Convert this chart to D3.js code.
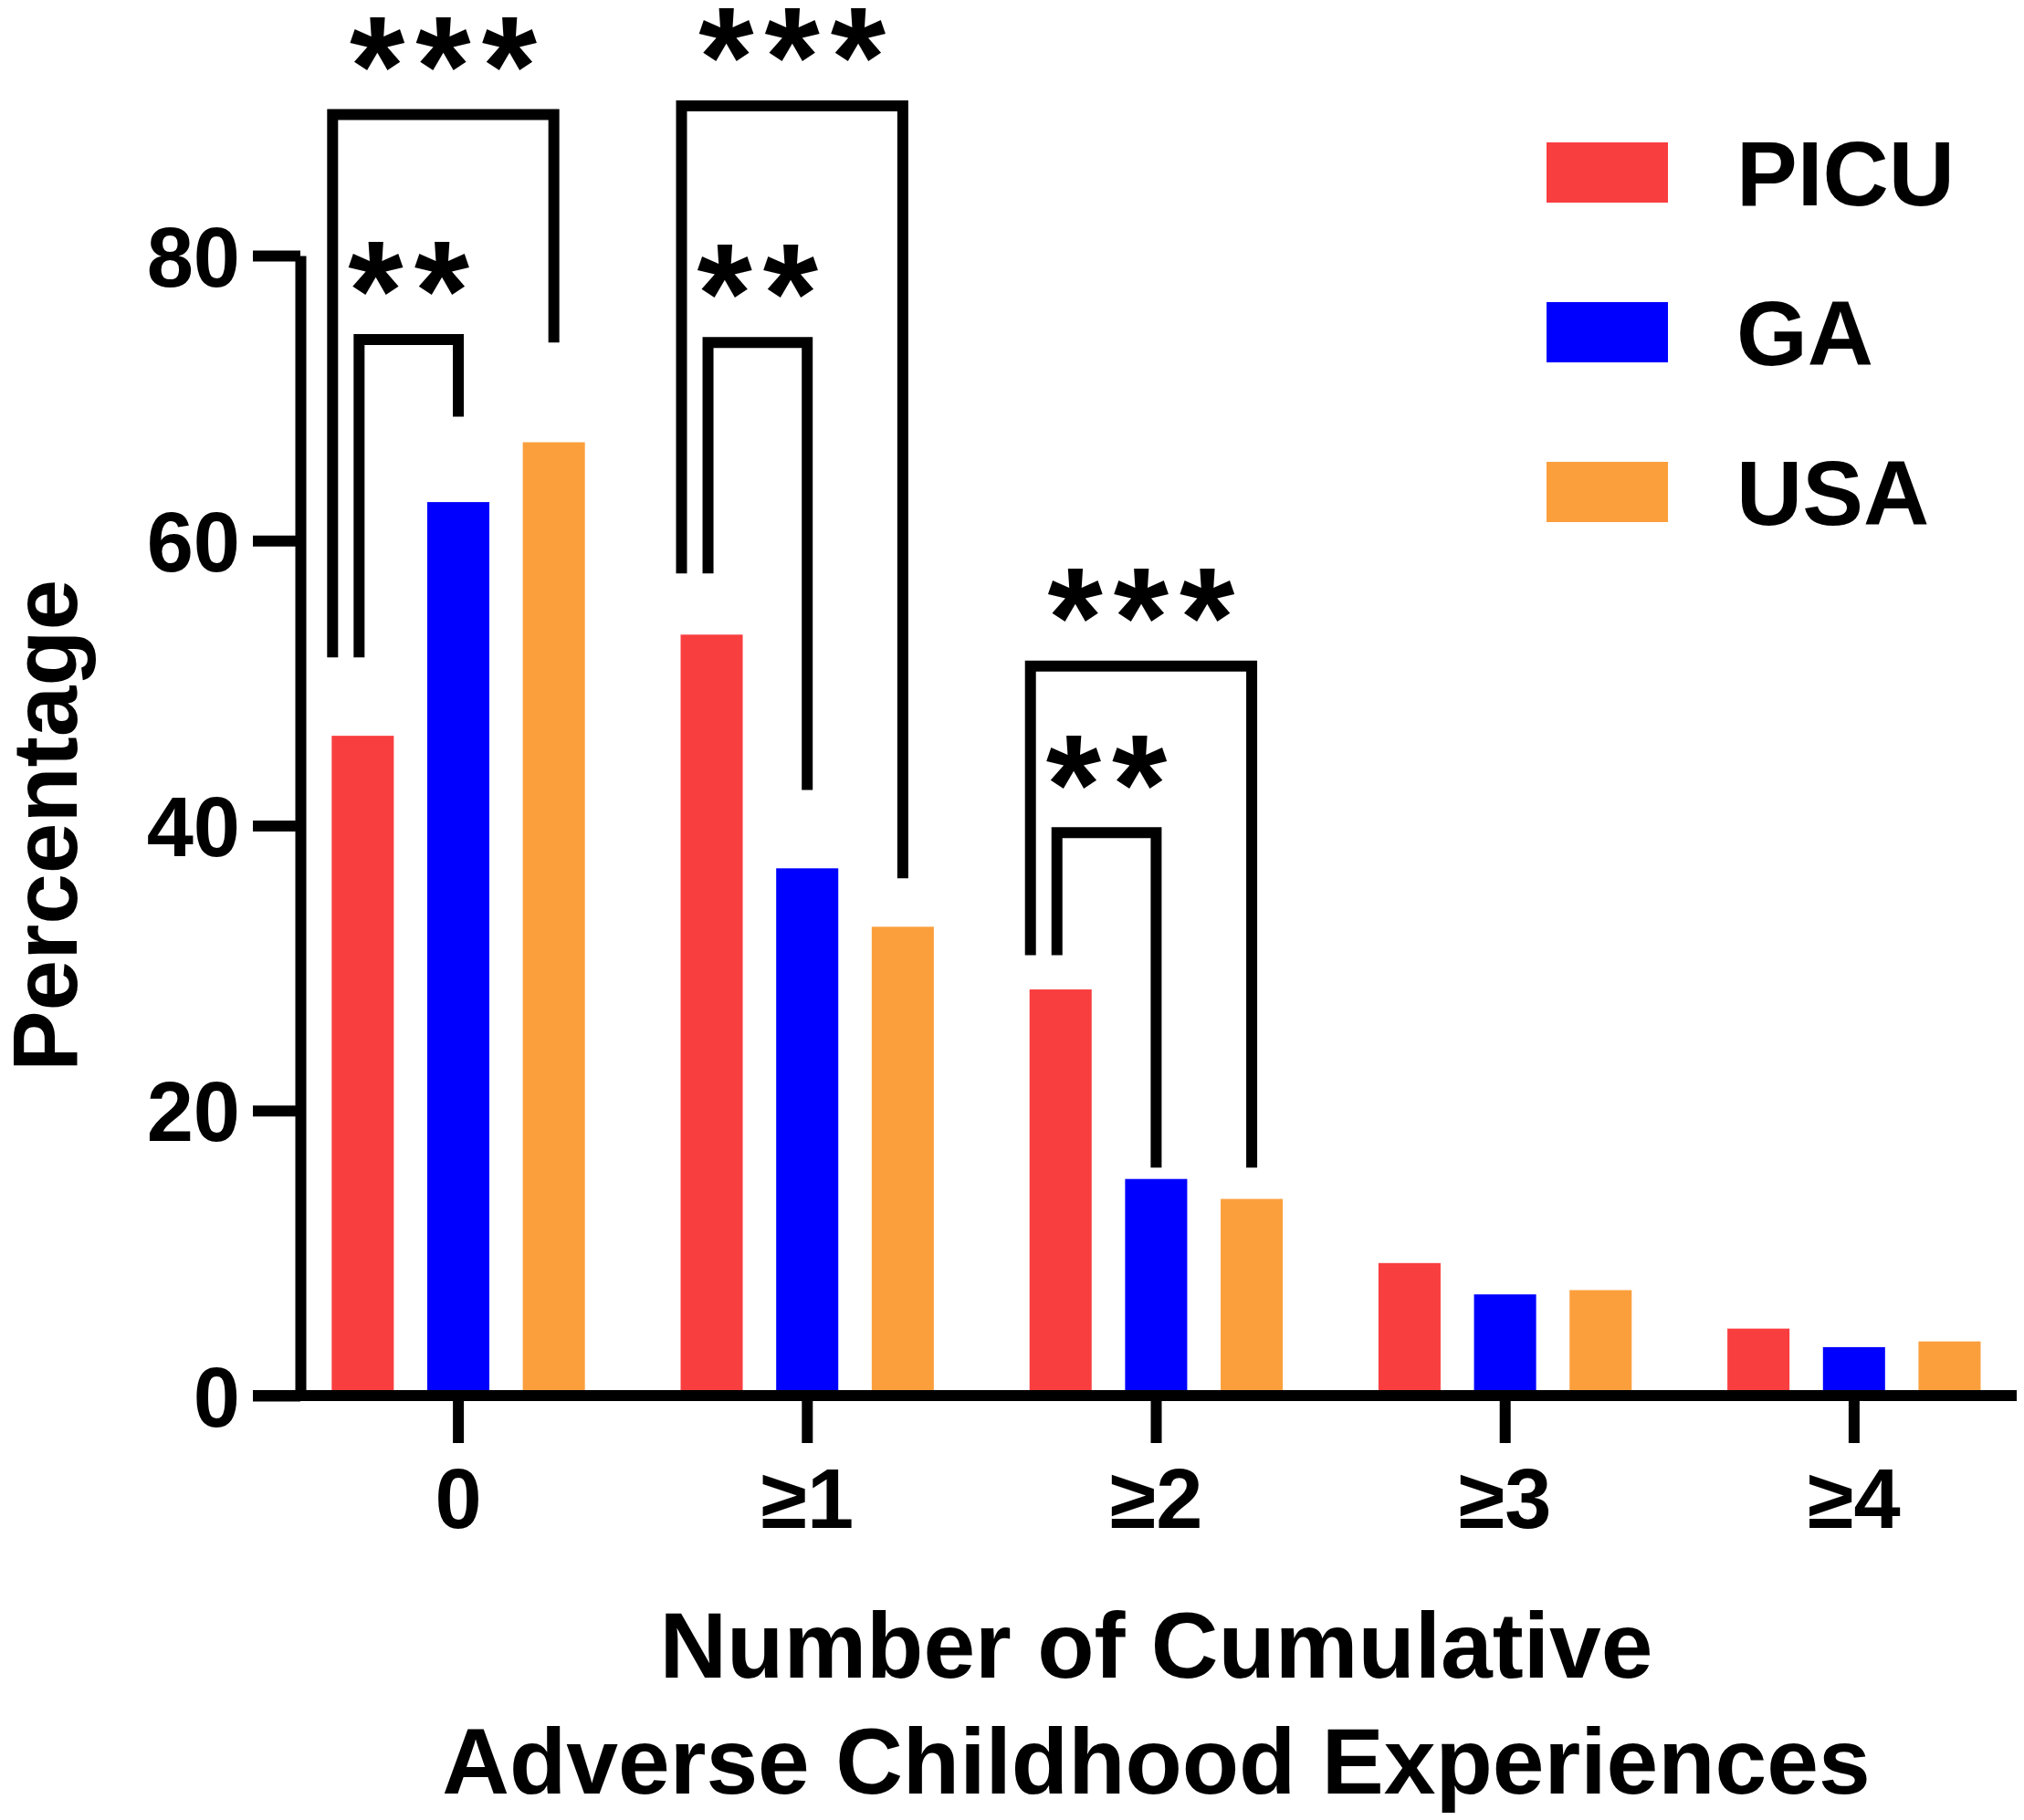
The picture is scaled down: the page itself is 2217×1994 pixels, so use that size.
<!DOCTYPE html>
<html>
<head>
<meta charset="utf-8">
<script src="https://cdn.jsdelivr.net/npm/d3@7"></script>
<style>
  html, body { margin: 0; padding: 0; background: #fff; }
  text { font-family: "Liberation Sans", Arial, Helvetica, sans-serif; font-weight: bold; fill: #000; }
</style>
</head>
<body>
<script>
// categories and series
const categories = ["0", "≥1", "≥2", "≥3", "≥4"];
const seriesNames = ["PICU", "GA", "USA"];
const seriesColors = ["#f93e40", "#0000ff", "#fb9f3c"];

// percentage values
const picuValues = [46.3, 53.4, 28.5, 9.3, 4.7];
const gaValues = [62.7, 37.0, 15.2, 7.1, 3.4];
const usaValues = [66.9, 32.9, 13.8, 7.4, 3.8];

const yTicks = [0, 20, 40, 60, 80];

// significance brackets (PICU vs target), heights in percentage units
const sigCategory = ["0", "0", "≥1", "≥1", "≥2", "≥2"];
const sigTarget = ["USA", "GA", "USA", "GA", "USA", "GA"];
const sigLabel = ["***", "**", "***", "**", "***", "**"];
const sigTop = [89.9, 74.1, 90.5, 73.9, 51.2, 39.5];
const sigLeftEnd = [51.8, 51.8, 57.7, 57.7, 30.9, 30.9];
const sigRightEnd = [73.9, 68.7, 36.3, 42.5, 16.0, 16.0];

// 全体サイズ
const width = 2217;
const height = 1994;
const lineW = 12;

const svg = d3.select("body").append("svg")
  .attr("width", width)
  .attr("height", height);

// スケール
const x0 = d3.scaleBand().domain(categories).range([311, 2222]).padding(0);
const x1 = d3.scaleBand().domain(seriesNames).range([34, 348])
  .paddingInner(0.35).paddingOuter(0.175);
const y = d3.scaleLinear().domain([0, 80]).range([1529, 280]);
const color = d3.scaleOrdinal().domain(seriesNames).range(seriesColors);

const table = categories.map((c, i) => ({
  cat: c,
  vals: [
    { s: "PICU", v: picuValues[i] },
    { s: "GA", v: gaValues[i] },
    { s: "USA", v: usaValues[i] },
  ],
}));

// バー
const groups = svg.append("g")
  .selectAll("g")
  .data(table)
  .join("g")
  .attr("transform", (d) => `translate(${x0(d.cat)},0)`);

groups.selectAll("rect")
  .data((d) => d.vals)
  .join("rect")
  .attr("x", (d) => x1(d.s))
  .attr("width", x1.bandwidth())
  .attr("y", (d) => y(d.v))
  .attr("height", (d) => y(0) - y(d.v))
  .attr("fill", (d) => color(d.s));

// y軸
const yAxisX = 329;
const tickLen = 52;
const yAxis = svg.append("g")
  .attr("transform", `translate(${yAxisX},0)`)
  .call(d3.axisLeft(y).tickValues(yTicks).tickSize(tickLen).tickSizeOuter(0).tickPadding(14));
yAxis.select(".domain").attr("stroke", "#000").attr("stroke-width", lineW);
yAxis.selectAll(".tick line").attr("stroke", "#000").attr("stroke-width", lineW);
yAxis.selectAll(".tick text")
  .attr("font-size", 92)
  .attr("dy", "0.36em");

// x軸
const xAxis = svg.append("g")
  .attr("transform", `translate(0,${y(0)})`)
  .call(d3.axisBottom(x0).tickSize(tickLen).tickSizeOuter(0).tickPadding(28));
xAxis.select(".domain").remove();
xAxis.selectAll(".tick line").attr("stroke", "#000").attr("stroke-width", lineW);
xAxis.selectAll(".tick text")
  .attr("font-size", 92);
xAxis.append("line")
  .attr("x1", yAxisX - tickLen)
  .attr("x2", x0.range()[1] - 13)
  .attr("stroke", "#000")
  .attr("stroke-width", lineW);

// 軸タイトル
svg.append("text")
  .attr("text-anchor", "middle")
  .attr("font-size", 102)
  .selectAll("tspan")
  .data(["Number of Cumulative", "Adverse Childhood Experiences"])
  .join("tspan")
  .attr("x", x0("≥2") + x0.bandwidth() / 2)
  .attr("y", (d, i) => 1838 + i * 127)
  .text((d) => d);

svg.append("text")
  .attr("text-anchor", "middle")
  .attr("font-size", 100)
  .attr("transform", `translate(84,${(y(0) + y(80)) / 2}) rotate(-90)`)
  .text("Percentage");

// 有意差ブラケット
const sigData = sigCategory.map((c, i) => ({
  cat: c, target: sigTarget[i], label: sigLabel[i],
  top: sigTop[i], l: sigLeftEnd[i], r: sigRightEnd[i],
  outer: sigLabel[i].length === 3,
}));

const sig = svg.append("g")
  .selectAll("g")
  .data(sigData)
  .join("g");

const legX = (d) => {
  const base = x0(d.cat) + x1("PICU");
  return d.outer ? base + 1 : base + x1.bandwidth() / 2 - 4;
};
const rightX = (d) => x0(d.cat) + x1(d.target) + x1.bandwidth() / 2;

sig.append("path")
  .attr("fill", "none")
  .attr("stroke", "#000")
  .attr("stroke-width", lineW)
  .attr("stroke-linejoin", "miter")
  .attr("d", (d) => `M${legX(d)},${y(d.l)}V${y(d.top)}H${rightX(d)}V${y(d.r)}`);

// アスタリスク
const starSize = 155;
const starGap = 12;
sig.append("text")
  .attr("text-anchor", "middle")
  .attr("font-size", starSize)
  .attr("letter-spacing", starGap)
  .attr("x", (d) => (legX(d) + rightX(d)) / 2 + starGap / 2)
  .attr("y", (d) => y(d.top) - 54 + starSize * 0.35)
  .text((d) => d.label);

// 凡例
const legend = svg.append("g")
  .selectAll("g")
  .data(seriesNames)
  .join("g")
  .attr("transform", (d, i) => `translate(1694,${156 + i * 175})`);

legend.append("rect")
  .attr("width", 133)
  .attr("height", 66)
  .attr("fill", (d) => color(d));

legend.append("text")
  .attr("x", 208)
  .attr("y", 33)
  .attr("dy", "0.36em")
  .attr("font-size", 100)
  .text((d) => d);
</script>
</body>
</html>
